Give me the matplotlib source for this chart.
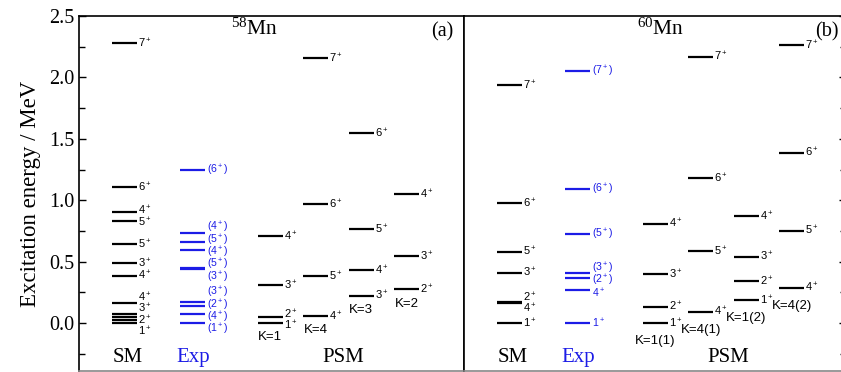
import numpy as np
import matplotlib.pyplot as plt
from matplotlib.ticker import MultipleLocator

plt.rcParams['mathtext.default'] = 'regular'

SERIF = 'Liberation Serif'
SANS = 'Liberation Sans'
BLUE = '#1c1ce6'

# ---- 58Mn (panel a) --------------------------------------------------------
sm58_E = [0.0, 0.024, 0.048, 0.072, 0.16, 0.386, 0.486, 0.64, 0.83, 0.907, 1.105, 2.28]
sm58_J = ['1+', '', '2+', '3+', '4+', '4+', '3+', '5+', '5+', '4+', '6+', '7+']
exp58_E = [0.0, 0.071, 0.141, 0.173, 0.437, 0.45, 0.594, 0.662, 0.735, 1.246]
exp58_J = ['(1+)', '(4+)', '(2+)', '(3+)', '(3+)', '(5+)', '(4+)', '(5+)', '(4+)', '(6+)']
psm58_k1_E = [0.0, 0.05, 0.307, 0.705]
psm58_k1_J = ['1+', '2+', '3+', '4+']
psm58_k4_E = [0.057, 0.38, 0.969, 2.155]
psm58_k4_J = ['4+', '5+', '6+', '7+']
psm58_k3_E = [0.222, 0.432, 0.763, 1.545]
psm58_k3_J = ['3+', '4+', '5+', '6+']
psm58_k2_E = [0.274, 0.547, 1.05]
psm58_k2_J = ['2+', '3+', '4+']
psm58_bands = ['K=1', 'K=4', 'K=3', 'K=2']

# ---- 60Mn (panel b) --------------------------------------------------------
sm60_E = [0.0, 0.16, 0.173, 0.41, 0.58, 0.975, 1.938]
sm60_J = ['1+', '4+', '2+', '3+', '5+', '6+', '7+']
exp60_E = [0.0, 0.269, 0.364, 0.405, 0.722, 1.09, 2.05]
exp60_J = ['1+', '4+', '(2+)', '(3+)', '(5+)', '(6+)', '(7+)']
psm60_k11_E = [0.0, 0.133, 0.40, 0.81]
psm60_k11_J = ['1+', '2+', '3+', '4+']
psm60_k41_E = [0.092, 0.586, 1.18, 2.17]
psm60_k41_J = ['4+', '5+', '6+', '7+']
psm60_k12_E = [0.187, 0.342, 0.54, 0.87]
psm60_k12_J = ['1+', '2+', '3+', '4+']
psm60_k42_E = [0.288, 0.752, 1.387, 2.26]
psm60_k42_J = ['4+', '5+', '6+', '7+']
psm60_bands = ['K=1(1)', 'K=4(1)', 'K=1(2)', 'K=4(2)']

col_x = [1.0, 2.5, 4.2, 5.2, 6.2, 7.2]
HW = 0.275


def spread(ys, gap):
    """Push overlapping labels apart, keeping each cluster centred."""
    ys = np.asarray(ys, dtype=float)
    order = np.argsort(ys)
    groups = [[y] for y in ys[order]]
    merged = True
    while merged:
        merged = False
        span = [(np.mean(g) - (len(g) - 1) / 2 * gap,
                 np.mean(g) + (len(g) - 1) / 2 * gap) for g in groups]
        for i in range(len(groups) - 1):
            if span[i + 1][0] - span[i][1] < gap:
                groups[i] = groups[i] + groups.pop(i + 1)
                merged = True
                break
    out = []
    for g in groups:
        c, n = np.mean(g), len(g)
        out += [c + (k - (n - 1) / 2) * gap for k in range(n)]
    res = np.empty(len(ys))
    res[order] = out
    return res


def fmt(j):
    return j.replace('+', '$^+$')


def draw_column(ax, x, energies, labels, color='black', gap=0.092, fs=8.0):
    ax.hlines(energies, x - HW, x + HW, color=color, lw=1.6)
    lab = [(e, l) for e, l in zip(energies, labels) if l]
    ys = spread([e for e, _ in lab], gap)
    for y, (_, l) in zip(ys, lab):
        ax.text(x + HW + 0.03, y, fmt(l), ha='left', va='center',
                fontsize=fs, color=color, family=SANS)


def setup(ax, right=False):
    ax.set_ylim(-0.39, 2.5)
    ax.set_xticks([])
    ax.yaxis.set_major_locator(MultipleLocator(0.5))
    ax.yaxis.set_minor_locator(MultipleLocator(0.25))
    ax.tick_params(axis='y', which='both', direction='in', labelsize=14.5,
                   left=not right, right=right, labelleft=not right, labelright=False)
    ax.tick_params(axis='y', which='major', length=5, width=1)
    ax.tick_params(axis='y', which='minor', length=4, width=1)
    for lab in ax.get_yticklabels():
        lab.set_family(SERIF)
    for sp in ax.spines.values():
        sp.set_linewidth(1.2)
    ax.spines['bottom'].set_color('#888888')


fig = plt.figure(figsize=(8.41, 3.72), dpi=100)
axa = fig.add_axes([79 / 841, 1 / 372, 385 / 841, 355 / 372])
axb = fig.add_axes([464 / 841, 1 / 372, 382 / 841, 355 / 372])
axa.set_xlim(0, 385 / 45.5)
axb.set_xlim(0, 382 / 45.5)
setup(axa)
setup(axb, right=True)
axa.yaxis.set_major_formatter(lambda v, p: f'{v:.1f}')
axa.set_ylabel('Excitation energy / MeV', family=SERIF, fontsize=16.5, labelpad=6)

# panel a
draw_column(axa, col_x[0], sm58_E, sm58_J)
draw_column(axa, col_x[1], exp58_E, exp58_J, color=BLUE, gap=0.1, fs=7.6)
for x, E, J, k in zip(col_x[2:], [psm58_k1_E, psm58_k4_E, psm58_k3_E, psm58_k2_E],
                      [psm58_k1_J, psm58_k4_J, psm58_k3_J, psm58_k2_J], psm58_bands):
    draw_column(axa, x, E, J)
    axa.text(x, min(E) - 0.115, k, ha='center', va='center', fontsize=9.5, family=SANS)

# panel b
draw_column(axb, col_x[0], sm60_E, sm60_J)
draw_column(axb, col_x[1], exp60_E, exp60_J, color=BLUE, gap=0.1, fs=7.6)
for x, E, J, k in zip(col_x[2:], [psm60_k11_E, psm60_k41_E, psm60_k12_E, psm60_k42_E],
                      [psm60_k11_J, psm60_k41_J, psm60_k12_J, psm60_k42_J], psm60_bands):
    draw_column(axb, x, E, J)
    axb.text(x, min(E) - 0.145, k, ha='center', va='center', fontsize=9.5, family=SANS)

for ax, nuc, tag, nx in [(axa, '58', '(a)', 3.87), (axb, '60', '(b)', 4.33)]:
    ax.text(col_x[0] + 0.07, -0.28, 'SM', ha='center', va='center', fontsize=15, family=SERIF)
    ax.text(col_x[1], -0.28, 'Exp', ha='center', va='center', fontsize=15,
            family=SERIF, color=BLUE)
    ax.text(5.8, -0.28, 'PSM', ha='center', va='center', fontsize=15, family=SERIF)
    ax.text(nx, 2.39, f'$^{{{nuc}}}$Mn', ha='center', va='center', fontsize=15.5, family=SERIF)
    ax.text(7.98, 2.37, tag, ha='center', va='center', fontsize=14.5, family=SERIF)

fig.savefig('out.png', dpi=100)
